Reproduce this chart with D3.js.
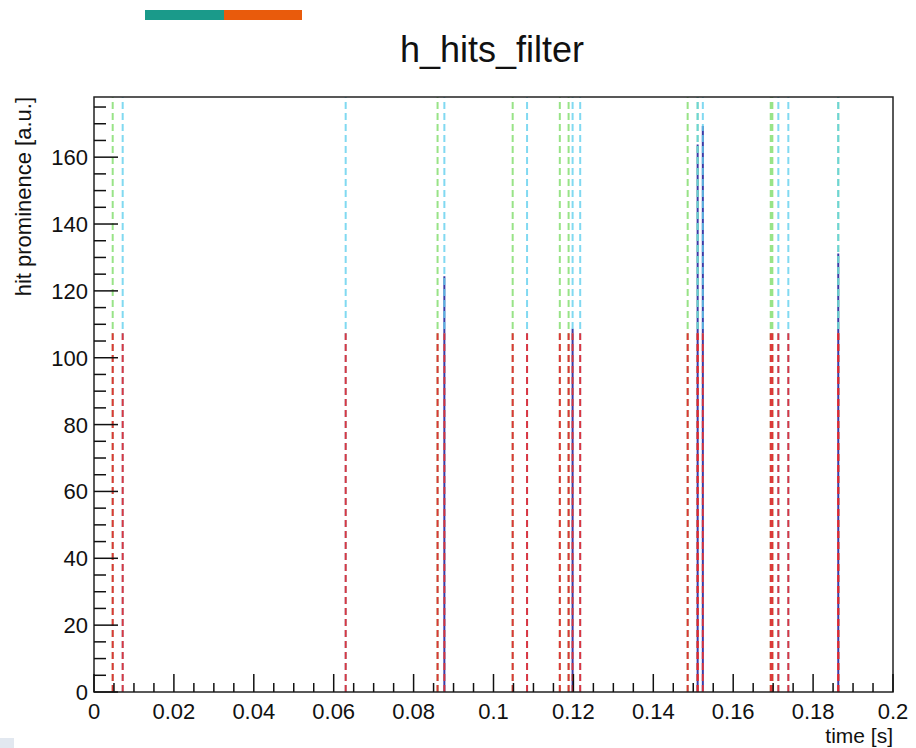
<!DOCTYPE html>
<html>
<head>
<meta charset="utf-8">
<script src="https://cdn.jsdelivr.net/npm/d3@7"></script>
<style>
  body { margin: 0; background: #fff; }
  text { font-family: "Liberation Sans", Arial, sans-serif; fill: #111; }
</style>
</head>
<body>
<div id="chart"></div>
<script>
// data ----------------------------------------------
var greenHits = [0.00468, 0.0860, 0.1048, 0.1166, 0.1188, 0.1486, 0.1511, 0.1694, 0.1698, 0.1863];
var cyanHits = [0.00718, 0.0630, 0.0877, 0.1084, 0.1198, 0.1217, 0.1511, 0.1524, 0.1713, 0.1738, 0.1863];
var redLevel = 107.3; // every found hit marked at this height
var peakTimes = [0.0877, 0.1198, 0.1511, 0.1524, 0.1863];
var peakValues = [124.4, 108.7, 163.8, 169.3, 131.2];
var xTicks = [0, 0.02, 0.04, 0.06, 0.08, 0.1, 0.12, 0.14, 0.16, 0.18, 0.2];
var xTickLabels = ['0', '0.02', '0.04', '0.06', '0.08', '0.1', '0.12', '0.14', '0.16', '0.18', '0.2'];
var yTicks = [0, 20, 40, 60, 80, 100, 120, 140, 160];
var titleText = 'h_hits_filter';
var xTitle = 'time [s]';
var yTitle = 'hit prominence [a.u.]';

var W = 916, H = 748;
var margin = {top: 97, right: 23, bottom: 56, left: 94};
var width = W - margin.left - margin.right,
    height = H - margin.top - margin.bottom;

var xScale = d3.scaleLinear().domain([0, 0.2]).range([0, width]),
    yScale = d3.scaleLinear().domain([0, 178]).range([height, 0]);

var svg = d3.select('#chart').append('svg')
    .attr('width', W)
    .attr('height', H);

// little colour strip on top
svg.append('rect').attr('x', 145).attr('y', 10).attr('width', 79).attr('height', 10).attr('fill', '#1a9a8a');
svg.append('rect').attr('x', 224).attr('y', 10).attr('width', 78).attr('height', 10).attr('fill', '#e95b0c');
// faint square in the corner
svg.append('rect').attr('x', 0).attr('y', 738).attr('width', 14).attr('height', 10).attr('fill', '#e2e8f0');

svg.append('text')
    .attr('x', 492).attr('y', 62)
    .attr('text-anchor', 'middle')
    .style('font-size', '36px')
    .text(titleText);

var g = svg.append('g')
    .attr('transform', 'translate(' + margin.left + ',' + margin.top + ')');

// histogram spikes
g.selectAll('.peak').data(peakTimes).enter().append('line')
    .attr('class', 'peak')
    .attr('x1', function(d){ return xScale(d); })
    .attr('x2', function(d){ return xScale(d); })
    .attr('y1', yScale(0))
    .attr('y2', function(d, i){ return yScale(peakValues[i]); })
    .attr('stroke', '#3b3aa6')
    .attr('stroke-width', 2);

function vlines(data, color, top, cls, op) {
    g.selectAll('.' + cls).data(data).enter().append('line')
        .attr('class', cls)
        .attr('x1', function(d){ return xScale(d); })
        .attr('x2', function(d){ return xScale(d); })
        .attr('y1', yScale(0))
        .attr('y2', top)
        .attr('stroke', color)
        .attr('stroke-width', 2)
        .attr('stroke-opacity', op)
        .attr('stroke-dasharray', '7,4');
}
vlines(greenHits, '#86de72', 0, 'green', 0.85);
vlines(cyanHits, '#62cfee', 0, 'cyan', 0.8);
vlines(greenHits.concat(cyanHits), '#e3232f', yScale(redLevel), 'red', 0.9);

// frame
g.append('rect')
    .attr('width', width).attr('height', height)
    .attr('fill', 'none').attr('stroke', '#222').attr('stroke-width', 1.5);

// y axis ticks (inside, ROOT style)
var yMinor = d3.range(0, 178, 5);
g.selectAll('.ymin').data(yMinor).enter().append('line')
    .attr('x1', 0).attr('x2', function(d){ return d % 20 === 0 ? 24 : 12; })
    .attr('y1', function(d){ return yScale(d); })
    .attr('y2', function(d){ return yScale(d); })
    .attr('stroke', '#111').attr('stroke-width', 1.5);
g.selectAll('.ylab').data(yTicks).enter().append('text')
    .attr('x', -6).attr('y', function(d){ return yScale(d) + 8; })
    .attr('text-anchor', 'end')
    .style('font-size', '22px')
    .text(function(d){ return d; });

// x axis ticks
var xMinor = d3.range(0, 40.5, 1).map(function(i){ return i * 0.005; });
g.selectAll('.xmin').data(xMinor).enter().append('line')
    .attr('x1', function(d){ return xScale(d); })
    .attr('x2', function(d){ return xScale(d); })
    .attr('y1', height)
    .attr('y2', function(d, i){ return height - (i % 4 === 0 ? 18 : 9); })
    .attr('stroke', '#111').attr('stroke-width', 1.5);
g.selectAll('.xlab').data(xTicks).enter().append('text')
    .attr('x', function(d){ return xScale(d); })
    .attr('y', height + 27)
    .attr('text-anchor', 'middle')
    .style('font-size', '22px')
    .text(function(d, i){ return xTickLabels[i]; });

// axis titles
svg.append('text')
    .attr('x', margin.left + width).attr('y', 743)
    .attr('text-anchor', 'end')
    .style('font-size', '21px')
    .text(xTitle);
svg.append('text')
    .attr('transform', 'translate(31,' + margin.top + ') rotate(-90)')
    .attr('text-anchor', 'end')
    .style('font-size', '22px')
    .text(yTitle);
</script>
</body>
</html>
